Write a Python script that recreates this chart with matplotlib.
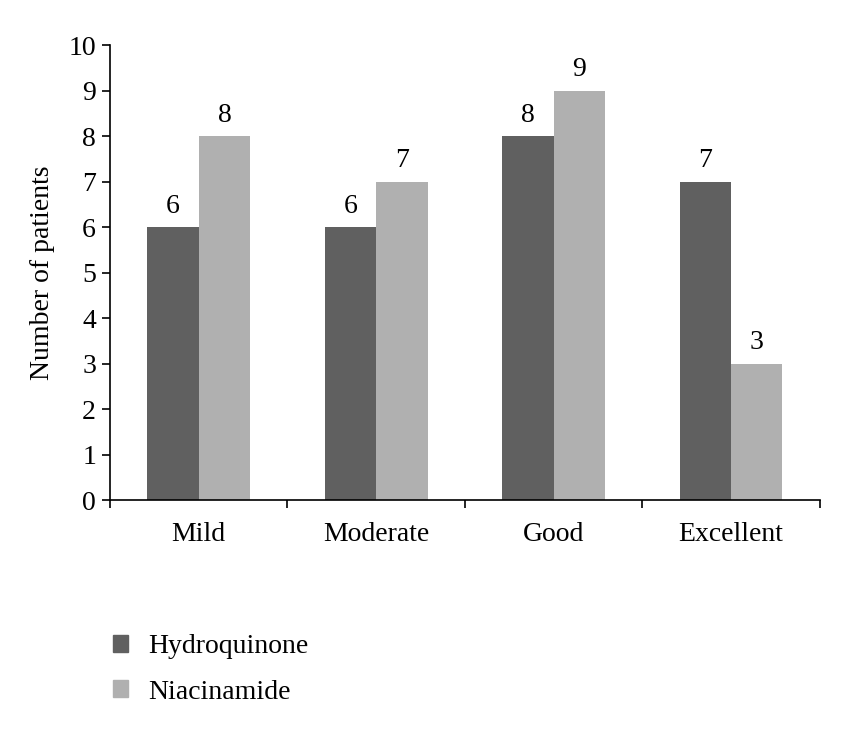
import numpy as np
import matplotlib.pyplot as plt
from matplotlib.patches import Patch

plt.rcParams['font.family'] = ['Liberation Serif', 'DejaVu Serif']

# dane
categories = ["Mild", "Moderate", "Good", "Excellent"]
hydroquinone = [6, 6, 8, 7]
niacinamide = [8, 7, 9, 3]
series_names = ["Hydroquinone", "Niacinamide"]
colors = ["#606060", "#b0b0b0"]

fs = 20

fig = plt.figure(figsize=(8.5, 7.35), dpi=100)
ax = fig.add_axes([0.1294, 0.3197, 0.835, 0.619])

x = np.arange(len(categories))
w = 0.29
b1 = ax.bar(x - w/2, hydroquinone, w, color=colors[0])
b2 = ax.bar(x + w/2, niacinamide, w, color=colors[1])
ax.bar_label(b1, padding=6, fontsize=fs)
ax.bar_label(b2, padding=6, fontsize=fs)

ax.set_xlim(-0.5, len(categories) - 0.5)
ax.set_ylim(0, 10)
ax.set_yticks(range(0, 11))
ax.tick_params(axis='y', labelsize=fs, length=6, width=1.2, direction='out', pad=4)

# kreski na granicach kategorii, etykiety na środku
ax.set_xticks(np.arange(-0.5, len(categories), 1))
ax.set_xticklabels([])
ax.set_xticks(x, minor=True)
ax.set_xticklabels(categories, minor=True, fontsize=fs)
ax.tick_params(axis='x', which='major', length=6, width=1.2, direction='out')
ax.tick_params(axis='x', which='minor', length=0, pad=16)

for s in ['top', 'right']:
    ax.spines[s].set_visible(False)
for s in ['left', 'bottom']:
    ax.spines[s].set_linewidth(1.2)

ax.set_ylabel("Number of patients", fontsize=fs, labelpad=10)

handles = [Patch(color=c, label=n) for c, n in zip(colors, series_names)]
fig.legend(handles=handles, loc='upper left', bbox_to_anchor=(0.133, 0.137),
           frameon=False, fontsize=fs, handlelength=0.55, handleheight=0.55,
           handletextpad=0.7, labelspacing=0.73, borderpad=0, borderaxespad=0)

fig.savefig("out.png", dpi=100)
